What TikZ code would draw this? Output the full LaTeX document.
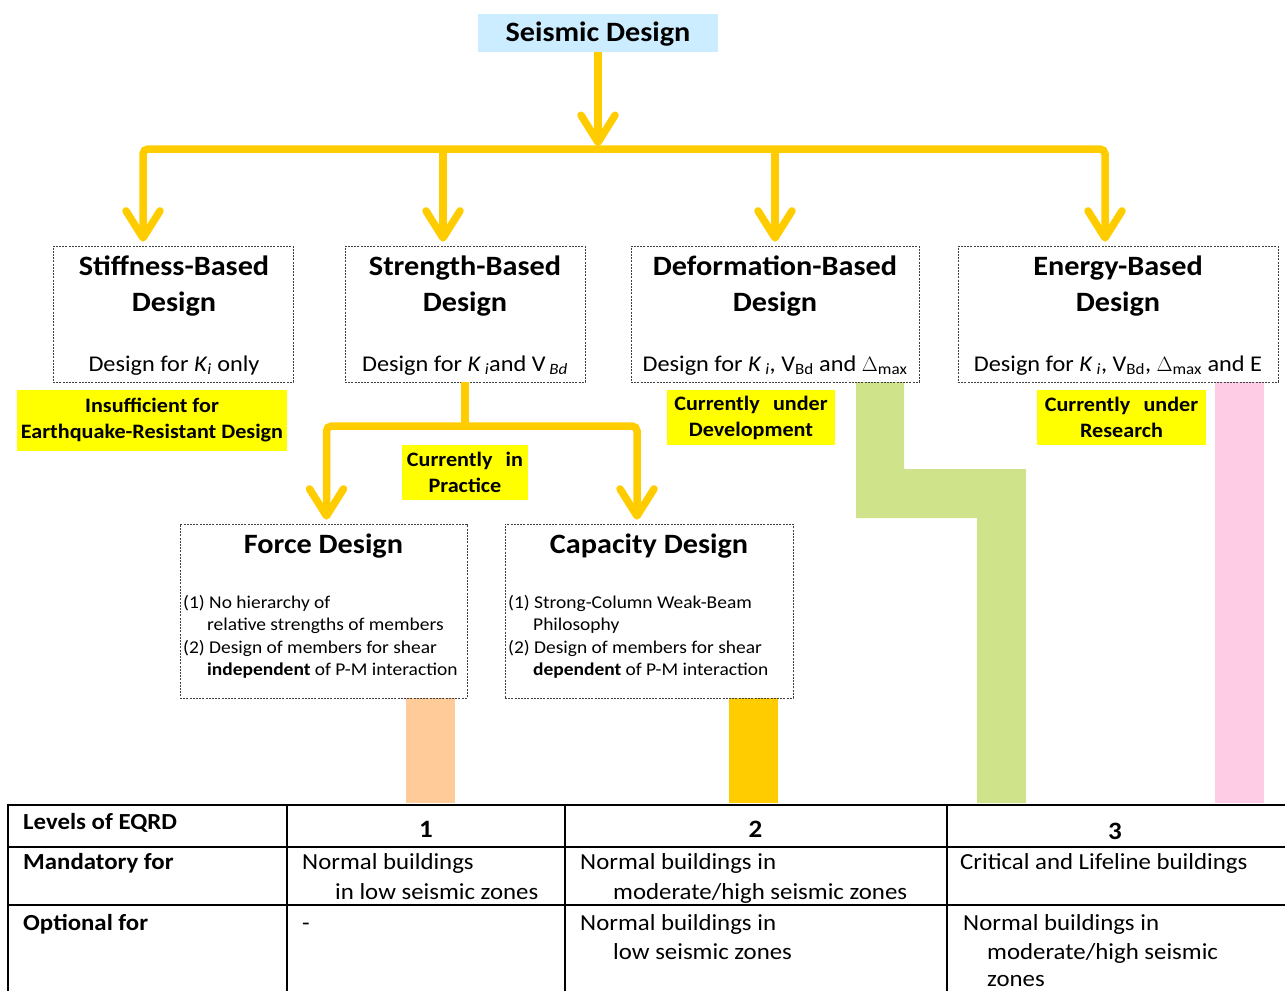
\documentclass[tikz,border=0pt]{standalone}
\usepackage{fontspec}
\setmainfont{Carlito}[FakeStretch=1.08]
\usetikzlibrary{arrows.meta}
\definecolor{arrowgold}{HTML}{FFCC00}
\definecolor{titleblue}{HTML}{CCECFF}
\definecolor{hiyellow}{HTML}{FFFF00}
\definecolor{barorange}{HTML}{FFCC99}
\definecolor{bargreen}{HTML}{CFE48A}
\definecolor{barpink}{HTML}{FFCCE6}
\definecolor{dashgray}{HTML}{404040}
\newcommand\mytitlefont{\fontsize{28pt}{34pt}\selectfont\bfseries}
\newcommand\myboxfont{\fontsize{28pt}{34pt}\selectfont\bfseries}
\newcommand\mysubfont{\fontsize{22.5pt}{26pt}\selectfont}
\newcommand\myfdfont{\fontsize{28pt}{34pt}\selectfont\bfseries}
\newcommand\myitemfont{\fontsize{18pt}{21pt}\selectfont}
\newcommand\myhlfont{\fontsize{20.5pt}{26pt}\selectfont\bfseries}
\newcommand\mytabfont{\fontsize{23pt}{27pt}\selectfont}
\newcommand\mynumfont{\fontsize{25pt}{29pt}\selectfont\bfseries}
\begin{document}
\begin{tikzpicture}[x=1pt,y=-1pt,
  yarrow/.style={draw=arrowgold, line width=7.5pt, rounded corners=5pt,
    -{Straight Barb[length=27pt, width=34pt, line cap=round, line join=round]}},
  yline/.style={draw=arrowgold, line width=7.5pt},
  dbox/.style={draw=dashgray, line width=0.7pt, dash pattern=on 2pt off 1.2pt, inner sep=0},
  lab/.style={inner sep=0, anchor=base},
  labw/.style={inner sep=0, anchor=base west},
  hl/.style={fill=hiyellow, inner sep=0, align=center, font=\myhlfont},
]
\useasboundingbox (0,0) rectangle (1285,991);

% coloured level bars
\fill[barorange] (406,698) rectangle (455,803);
\fill[arrowgold] (729,698) rectangle (778,803);
\fill[bargreen] (856,382) -- (904,382) -- (904,469) -- (1026,469) -- (1026,803)
  -- (977,803) -- (977,518) -- (856,518) -- cycle;
\fill[barpink] (1215,382) rectangle (1264,803);

% title
\node[fill=titleblue, minimum width=240pt, minimum height=38pt, inner sep=0,
  text depth=3pt, text height=19pt, font=\mytitlefont] (title) at (598,33) {Seismic Design};

% first-level boxes
\node[dbox, minimum width=240pt, minimum height=136pt] (stiff) at (173,314) {};
\node[dbox, minimum width=240pt, minimum height=136pt] (strength) at (465,314) {};
\node[dbox, minimum width=288pt, minimum height=136pt] (deform) at (775,314) {};
\node[dbox, minimum width=320pt, minimum height=136pt] (energy) at (1118,314) {};

\node[lab, font=\myboxfont] (stiffT1) at (174,275) {Stiffness-Based};
\node[lab, font=\myboxfont] (stiffT2) at (174,311) {Design};
\node[lab, font=\mysubfont] (stiffB) at (174,371) {Design for \textit{K}\textsubscript{\textit{i}} only};

\node[lab, font=\myboxfont] (strT1) at (465,275) {Strength-Based};
\node[lab, font=\myboxfont] (strT2) at (465,311) {Design};
\node[lab, font=\mysubfont] (strB) at (465,371) {Design for \textit{K}\,\textsubscript{\textit{i}}and V\,\textsubscript{\textit{Bd}}};

\node[lab, font=\myboxfont] (defT1) at (775,275) {Deformation-Based};
\node[lab, font=\myboxfont] (defT2) at (775,311) {Design};
\node[lab, font=\mysubfont] (defB) at (775,371) {Design for \textit{K}\,\textsubscript{\textit{i}}, V\textsubscript{Bd} and $\Delta$\textsubscript{max}};

\node[lab, font=\myboxfont] (enT1) at (1118,275) {Energy-Based};
\node[lab, font=\myboxfont] (enT2) at (1118,311) {Design};
\node[lab, font=\mysubfont] (enB) at (1118,371) {Design for \textit{K}\,\textsubscript{\textit{i}}, V\textsubscript{Bd}, $\Delta$\textsubscript{max} and E};

% highlight labels
\node[hl, minimum width=270pt, minimum height=61pt] (insuff) at (152,420.5) {Insufficient for\\Earthquake-Resistant Design};
\node[hl, minimum width=168pt, minimum height=55pt] (develop) at (751,417.5) {Currently\hspace{0.4em} under\\Development};
\node[hl, minimum width=169pt, minimum height=55pt] (research) at (1121.5,417.5) {Currently\hspace{0.4em} under\\Research};
\node[hl, minimum width=126pt, minimum height=55pt] (practice) at (465,472.5) {Currently\hspace{0.4em} in\\Practice};

% second-level boxes
\node[dbox, minimum width=287pt, minimum height=174pt] (force) at (323.5,611) {};
\node[dbox, minimum width=288pt, minimum height=174pt] (capacity) at (649,611) {};

\node[lab, font=\myfdfont] (forceT) at (323.5,553) {Force Design};
\node[labw, font=\myitemfont] (forceI1) at (183,608) {(1) No hierarchy of};
\node[labw, font=\myitemfont] (forceI2) at (207,630.5) {relative strengths of members};
\node[labw, font=\myitemfont] (forceI3) at (183,653) {(2) Design of members for shear};
\node[labw, font=\myitemfont] (forceI4) at (207,675.5) {\textbf{independent} of P-M interaction};

\node[lab, font=\myfdfont] (capT) at (649,553) {Capacity Design};
\node[labw, font=\myitemfont] (capI1) at (508,608) {(1) Strong-Column Weak-Beam};
\node[labw, font=\myitemfont] (capI2) at (533,630.5) {Philosophy};
\node[labw, font=\myitemfont] (capI3) at (508,653) {(2) Design of members for shear};
\node[labw, font=\myitemfont] (capI4) at (533,675.5) {\textbf{dependent} of P-M interaction};

% connectors
\coordinate (hub) at (598,149);
\coordinate (split) at (465,426);
\coordinate (strTop) at ([xshift=-22pt]strength.north);
\draw[yarrow, shorten >=3pt] (title.south) -- (hub);
\draw[yarrow, shorten >=4pt] (hub) -| ([xshift=-30pt]stiff.north);
\draw[yarrow, shorten >=4pt] (hub) -| ([xshift=-13pt]energy.north);
\draw[yarrow, shorten >=4pt] (strTop |- hub) -- (strTop);
\draw[yarrow, shorten >=4pt] (deform.north |- hub) -- (deform.north);
\draw[yline] (strength.south) -- (split);
\draw[yarrow, shorten >=4pt] (split) -| ([xshift=3pt]force.north);
\draw[yarrow, shorten >=4pt] (split) -| ([xshift=-12pt]capacity.north);

% table
\draw[line width=2.5pt] (8,805) -- (1285,805);
\draw[line width=1.5pt] (8,847) -- (1285,847);
\draw[line width=1.5pt] (8,905) -- (1285,905);
\draw[line width=2.5pt] (8,804) -- (8,991);
\draw[line width=1.5pt] (287,805) -- (287,991);
\draw[line width=1.5pt] (565,805) -- (565,991);
\draw[line width=1.5pt] (947,805) -- (947,991);

\node[labw, font=\mytabfont\bfseries] (levels) at (23,829) {Levels of EQRD};
\node[lab, font=\mynumfont] (lv1) at (426,837) {1};
\node[lab, font=\mynumfont] (lv2) at (755.5,837) {2};
\node[lab, font=\mynumfont] (lv3) at (1115,839) {3};

\node[labw, font=\mytabfont\bfseries] (mand) at (23,869) {Mandatory for};
\node[labw, font=\mytabfont] (m1a) at (302,869) {Normal buildings};
\node[labw, font=\mytabfont] (m1b) at (335,899) {in low seismic zones};
\node[labw, font=\mytabfont] (m2a) at (580,869) {Normal buildings in};
\node[labw, font=\mytabfont] (m2b) at (613,899) {moderate/high seismic zones};
\node[labw, font=\mytabfont] (m3a) at (960,869) {Critical and Lifeline buildings};

\node[labw, font=\mytabfont\bfseries] (opt) at (23,930) {Optional for};
\node[labw, font=\mytabfont] (o1) at (302,930) {-};
\node[labw, font=\mytabfont] (o2a) at (580,930) {Normal buildings in};
\node[labw, font=\mytabfont] (o2b) at (613,959) {low seismic zones};
\node[labw, font=\mytabfont] (o3a) at (963,930) {Normal buildings in};
\node[labw, font=\mytabfont] (o3b) at (987,959) {moderate/high seismic};
\node[labw, font=\mytabfont] (o3c) at (987,986) {zones};
\end{tikzpicture}
\end{document}
